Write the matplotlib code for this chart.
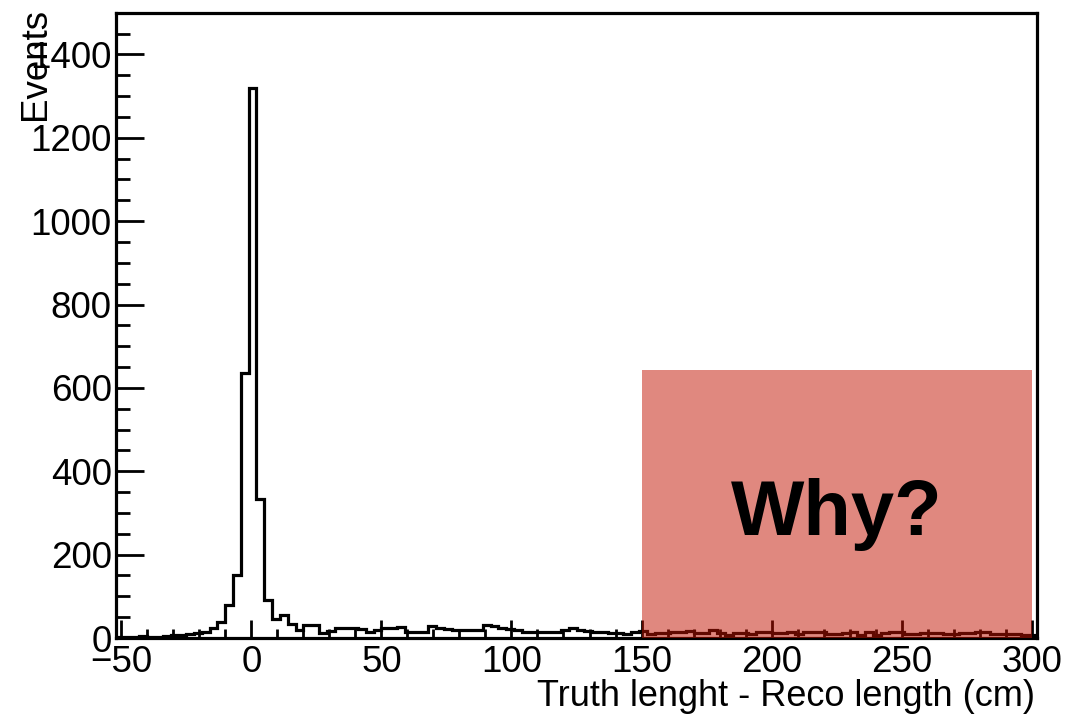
import numpy as np
import matplotlib
matplotlib.use("Agg")
import matplotlib.pyplot as plt
from matplotlib.patches import Rectangle
from matplotlib.ticker import MultipleLocator

plt.rcParams['font.family'] = ['Liberation Sans', 'DejaVu Sans']

# 3 cm bins, range snapped to bin edges around [-50, 300]
bin_lo = -52
bin_width = 3
counts = [3, 2, 3, 4, 3, 3, 4, 6, 8, 9,
          11, 14, 23, 38, 80, 150, 635, 1320, 334, 92,
          46, 56, 34, 20, 30, 30, 12, 16, 24, 24,
          23, 22, 14, 18, 24, 24, 26, 14, 14, 14,
          28, 23, 22, 20, 20, 20, 19, 30, 28, 25,
          22, 18, 15, 14, 14, 15, 15, 18, 24, 18,
          16, 15, 15, 12, 12, 10, 14, 16, 10, 12,
          12, 14, 14, 16, 11, 12, 19, 12, 8, 12,
          12, 10, 14, 14, 12, 12, 14, 10, 14, 14,
          14, 10, 10, 12, 14, 8, 14, 8, 12, 15,
          14, 10, 10, 12, 12, 12, 10, 10, 12, 12,
          14, 14, 10, 10, 10, 10, 8, 8]
edges = bin_lo + bin_width * np.arange(len(counts) + 1)

# highlighted region
box_x = [150, 300]
box_top = 642

fig = plt.figure(figsize=(10.68, 7.17), dpi=100)
ax = fig.add_axes([116/1068, 1 - 638/717, (1037 - 116)/1068, (638 - 12.7)/717])

ax.stairs(counts, edges, color='black', linewidth=2.3, zorder=2)

ax.add_patch(Rectangle((box_x[0], 0), box_x[1] - box_x[0], box_top,
                       facecolor=(0.76, 0.07, 0.0), alpha=0.5, edgecolor='none', zorder=3))
ax.text(225, 246, 'Why?', ha='center', va='baseline', fontsize=56, fontweight='bold', zorder=4)

ax.set_xlim(edges[0], edges[-1])
ax.set_ylim(0, 1500)
ax.xaxis.set_major_locator(MultipleLocator(50))
ax.xaxis.set_minor_locator(MultipleLocator(10))
ax.yaxis.set_major_locator(MultipleLocator(200))
ax.yaxis.set_minor_locator(MultipleLocator(50))
ax.tick_params(axis='both', which='both', direction='in', width=2, labelsize=26.5)
ax.tick_params(axis='x', which='major', length=13, pad=5)
ax.tick_params(axis='x', which='minor', length=6.5)
ax.tick_params(axis='y', which='major', length=20, pad=3)
ax.tick_params(axis='y', which='minor', length=10)
for s in ax.spines.values():
    s.set_linewidth(2.3)

fig.text(1035/1068, 1 - 697/717, 'Truth lenght - Reco length (cm)', ha='right', va='center', fontsize=26)
fig.text(35/1068, 1 - 8/717, 'Events', rotation=90, ha='center', va='top', fontsize=26.5)

fig.savefig('out.png', dpi=100)
